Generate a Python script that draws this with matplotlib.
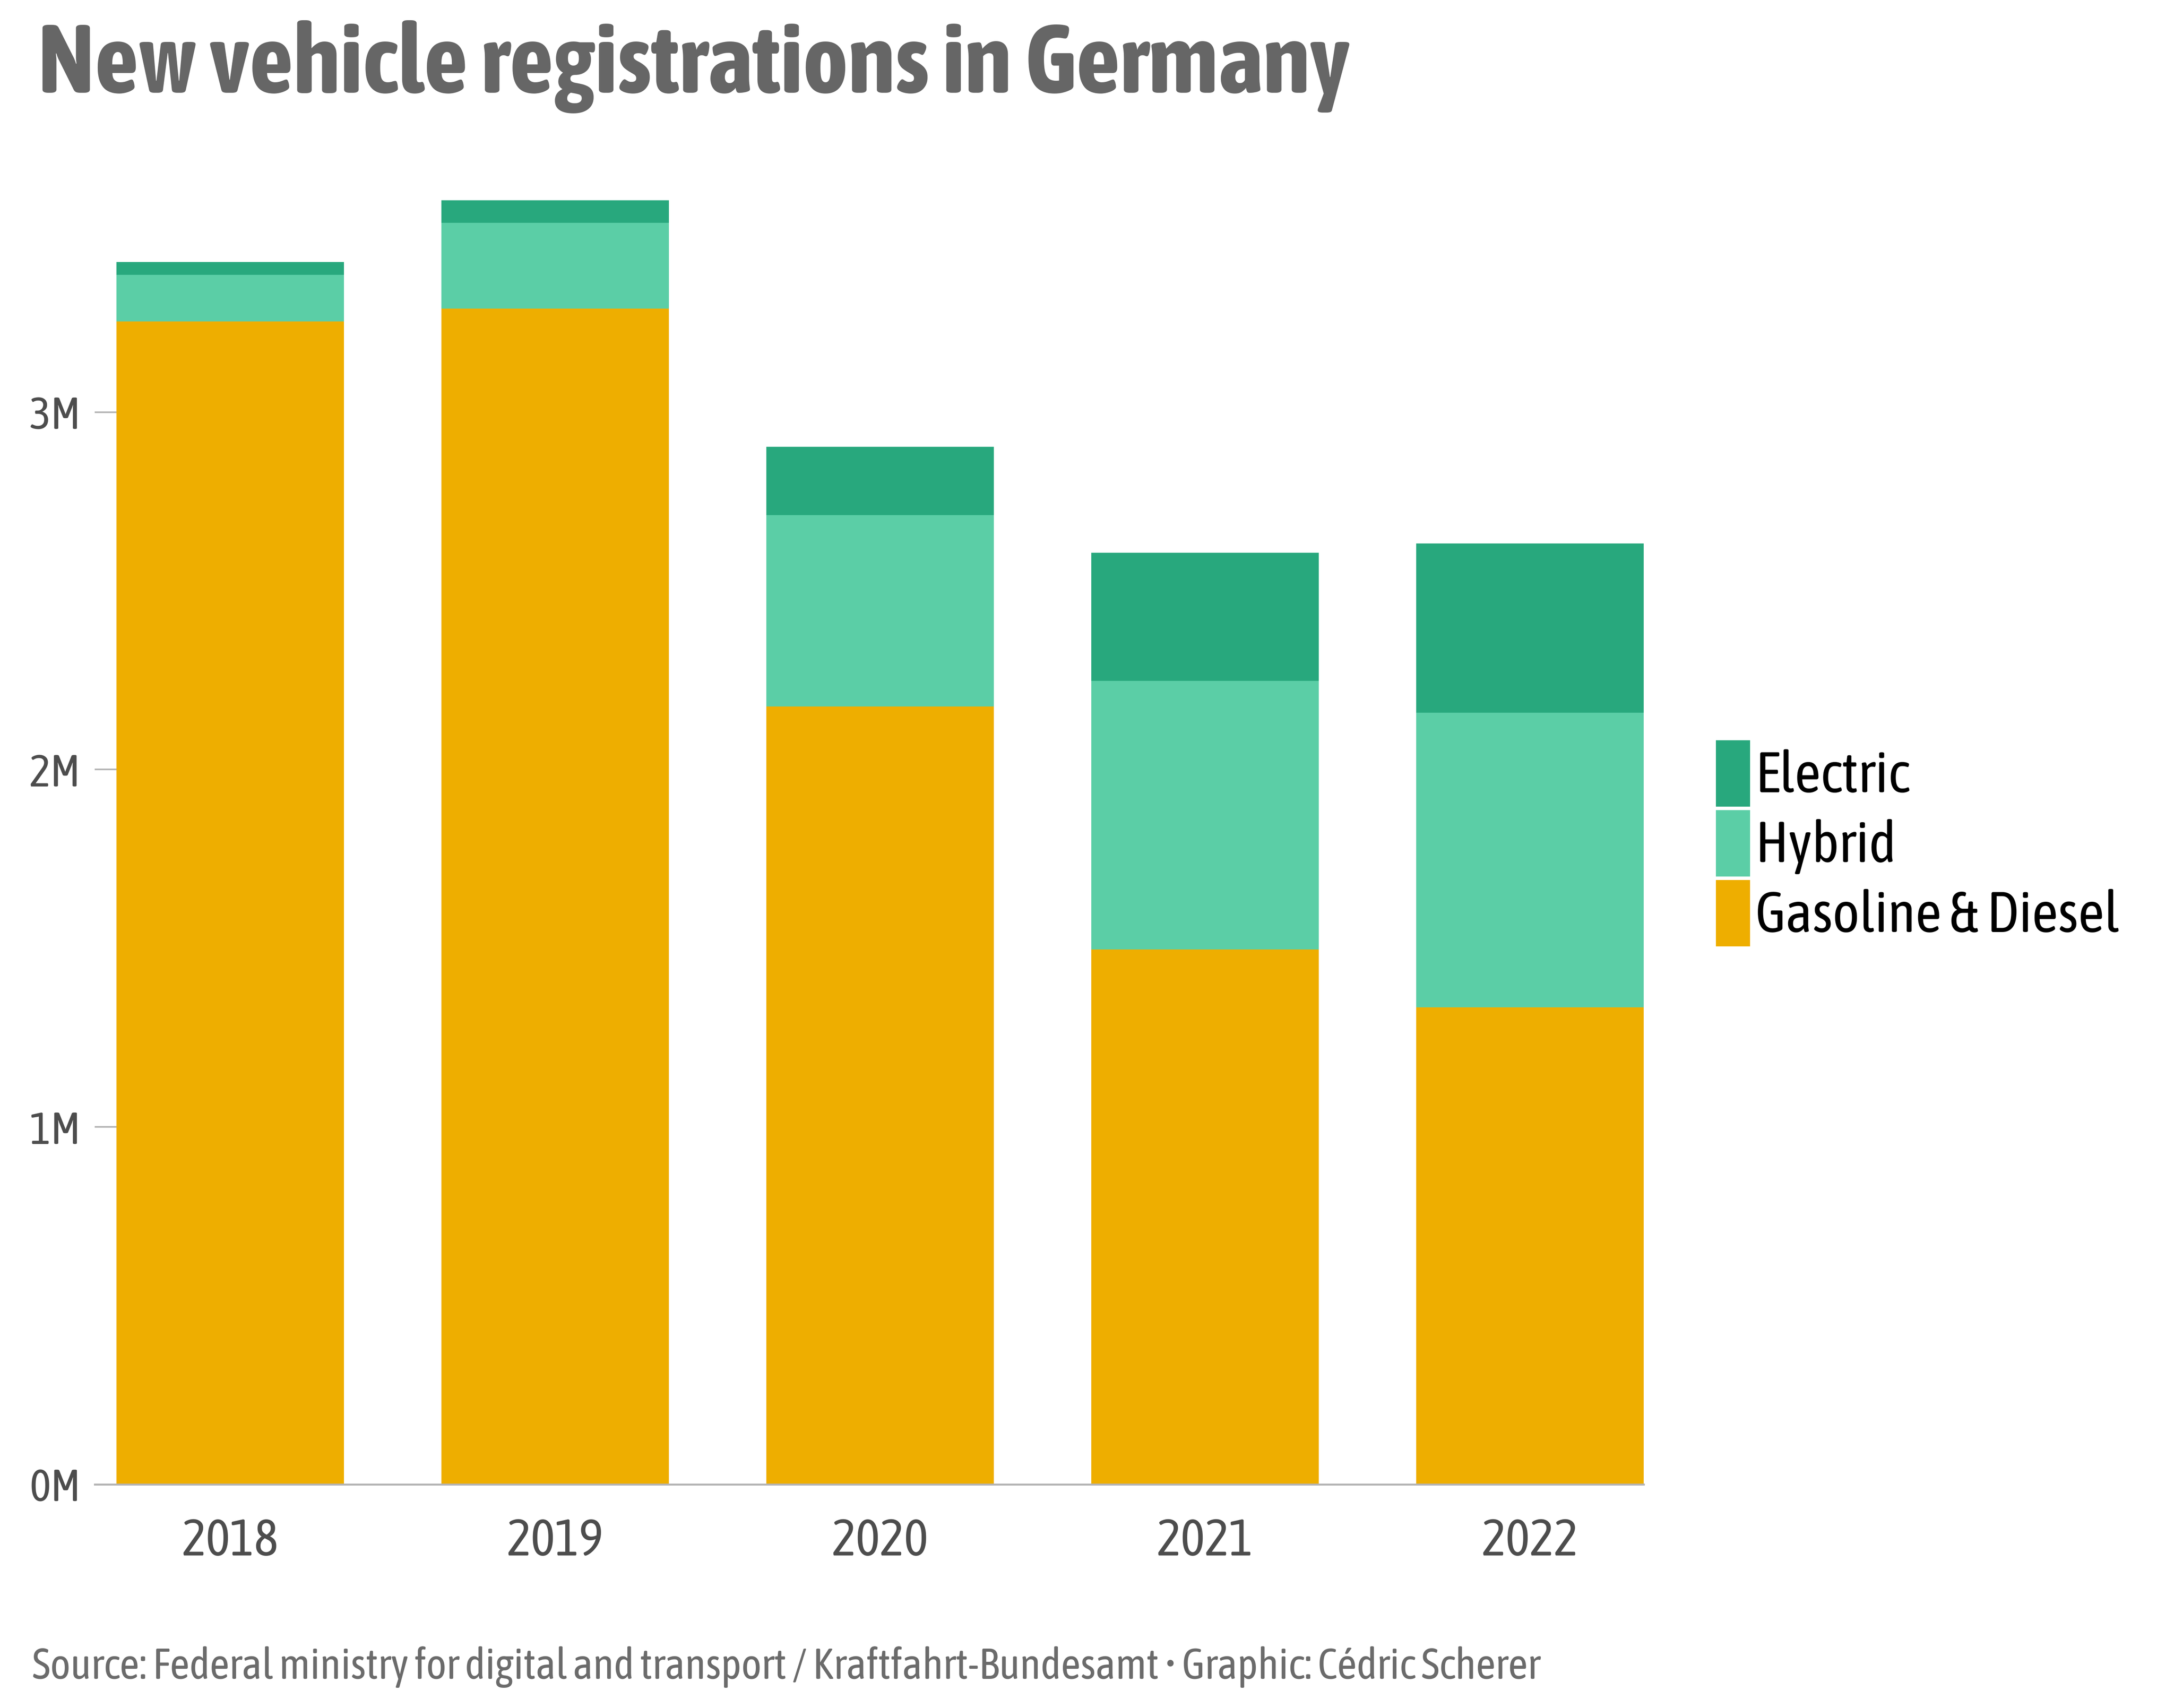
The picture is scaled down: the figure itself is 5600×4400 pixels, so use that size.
#!/usr/bin/env python3
"""Stacked bars of new vehicle registrations in Germany by fuel type."""

import numpy as np
import matplotlib

matplotlib.use("Agg")
from matplotlib import pyplot as plt
from matplotlib import font_manager as fm

# values, in vehicles
years = ["2018", "2019", "2020", "2021", "2022"]
gasoline_diesel = [3254000, 3290000, 2176000, 1497000, 1335000]
hybrid = [130000, 239000, 536000, 751000, 824000]
electric = [36000, 63000, 191000, 358000, 473000]

series_names = ["Gasoline & Diesel", "Hybrid", "Electric"]
series_colors = ["#EEAE00", "#5BCEA6", "#28A87D"]
y_ticks = [0, 1e6, 2e6, 3e6]
y_tick_labels = ["0M", "1M", "2M", "3M"]

TITLE = "New vehicle registrations in Germany"
CAPTION = ("Source: Federal ministry for digital and transport / Kraftfahrt-Bundesamt "
           "\u2022 Graphic: C\u00e9dric Scherer")

W, H = 5600, 4400
DPI = 400
PX = 72 / DPI  # points per output pixel


def pick_font() -> tuple[list[str], str]:
    """Prefer a narrow face, the reference uses a condensed sans."""
    names = {f.name for f in fm.fontManager.ttflist}
    for cand in ["Asap Condensed", "Liberation Sans Narrow", "Roboto Condensed",
                 "Open Sans Condensed", "Noto Sans Condensed", "DejaVu Sans Condensed"]:
        if cand in names:
            return [cand, "DejaVu Sans"], "normal"
    for f in fm.fontManager.ttflist:
        if f.name == "DejaVu Sans" and "ondensed" in f.fname:
            return ["DejaVu Sans"], "condensed"
    return ["DejaVu Sans"], "normal"


FAMILY, STRETCH = pick_font()
plt.rcParams["font.family"] = FAMILY
plt.rcParams["font.stretch"] = STRETCH


def fit_size(fig, text: str, size: float, target_px: float, weight: str = "normal") -> float:
    """Shrink a font size until the text is no wider than target_px."""
    t = fig.text(0, 0, text, fontsize=size, fontweight=weight)
    width = t.get_window_extent(renderer=fig.canvas.get_renderer()).width
    t.remove()
    return size if width <= target_px else size * target_px / width


def main() -> int:
    fig = plt.figure(figsize=(W / DPI, H / DPI), dpi=DPI, facecolor="white")
    left, right = 300 / W, 4234 / W
    bottom, top = 1 - 3824 / H, 1 - 371 / H
    ax = fig.add_axes([left, bottom, right - left, top - bottom])

    x = np.arange(len(years))
    base = np.zeros(len(years))
    handles = []
    for name, vals, col in zip(series_names, [gasoline_diesel, hybrid, electric], series_colors):
        bars = ax.bar(x, vals, bottom=base, width=0.7, color=col, label=name,
                      linewidth=0, zorder=2)
        handles.append(bars)
        base = base + np.array(vals, dtype=float)

    ax.set_xlim(-0.35, len(years) - 1 + 0.35)
    ax.set_ylim(0, 3.75e6)

    for s in ax.spines.values():
        s.set_visible(False)

    ax.set_yticks(y_ticks)
    ax.set_yticklabels(y_tick_labels)
    ax.tick_params(axis="y", length=56 * PX, width=0.75, color="#b3b3b3", pad=6.5,
                   labelsize=fit_size(fig, "3M", 20.8, 140), labelcolor="#4d4d4d")
    ax.set_xticks(x)
    ax.set_xticklabels(years)
    ax.tick_params(axis="x", length=0, pad=15, labelsize=fit_size(fig, "2018", 23.8, 260),
                   labelcolor="#4d4d4d")

    # baseline reaching out under the y ticks
    ext = 56 / (4234 - 300)
    ax.axhline(0, xmin=-ext, xmax=1, color="#b3b3b3", linewidth=0.9, clip_on=False, zorder=3)

    title_size = fit_size(fig, TITLE, 44.8, 3450, weight="bold")
    fig.text(97 / W, 1 - 239 / H, TITLE, fontsize=title_size, fontweight="bold",
             color="#666666", va="baseline", ha="left")
    cap_size = fit_size(fig, CAPTION, 19.9, 3950)
    fig.text(83 / W, 1 - 4325 / H, CAPTION, fontsize=cap_size, color="#6b6b6b",
             va="baseline", ha="left")

    # legend: patches 88 x 171 px, rows 180 px apart, first patch top at y=1907
    fs = fit_size(fig, "Gasoline & Diesel", 26.5, 950)
    f_px = fs / PX
    # matplotlib's handle box height is fs*hh - 0.35*fs*(hh - 0.7)
    hh = (171 / f_px - 0.245) / 0.65
    ax.legend(handles[::-1], series_names[::-1], loc="upper left",
              bbox_to_anchor=(4420 / W, 1 - 1907 / H),
              bbox_transform=fig.transFigure, frameon=False, fontsize=fs,
              handlelength=88 / f_px, handleheight=hh, labelspacing=9 / f_px,
              handletextpad=14 / f_px, borderpad=0, borderaxespad=0)

    fig.savefig("out.png", dpi=DPI, facecolor="white")
    plt.close(fig)
    return 0


if __name__ == "__main__":
    raise SystemExit(main())
